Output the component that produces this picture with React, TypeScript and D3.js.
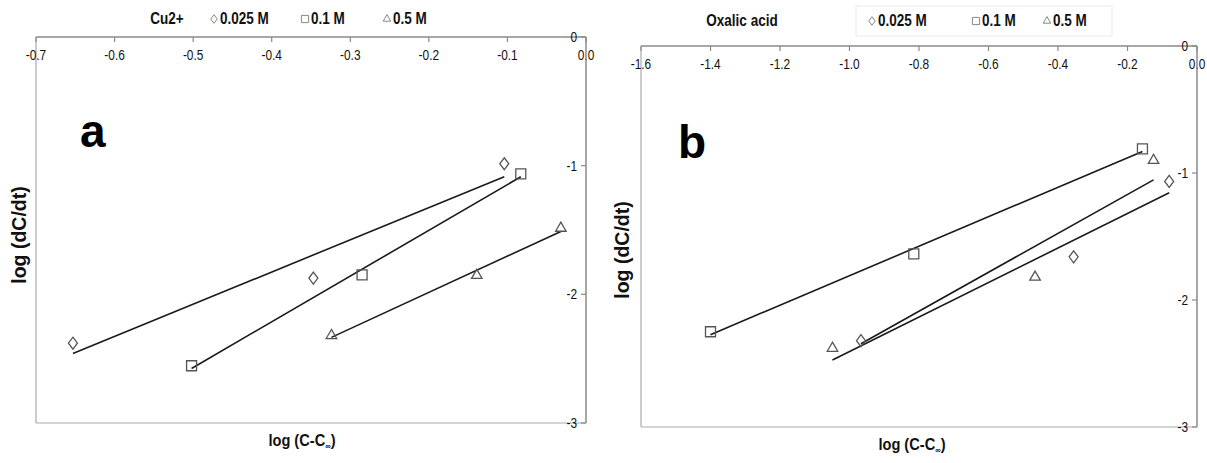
import React from "react";
import * as d3 from "d3";

// ---------- data ----------
const yTicks = [0, -1, -2, -3];
const yTickLabels = ["0", "-1", "-2", "-3"];

const xTicksA = [-0.7, -0.6, -0.5, -0.4, -0.3, -0.2, -0.1, 0];
const xTicksB = [-1.6, -1.4, -1.2, -1.0, -0.8, -0.6, -0.4, -0.2, 0];

const seriesNames = ["0.025 M", "0.1 M", "0.5 M"];
const seriesShapes = ["diamond", "square", "triangle"];

// panel a : Cu2+
const aDiamondX = [-0.653, -0.347, -0.104];
const aDiamondY = [-2.38, -1.874, -0.985];
const aSquareX = [-0.502, -0.285, -0.083];
const aSquareY = [-2.555, -1.848, -1.064];
const aTriangleX = [-0.324, -0.139, -0.032];
const aTriangleY = [-2.32, -1.853, -1.486];
const aFitSpans = [
  [-0.653, -0.104],
  [-0.502, -0.083],
  [-0.324, -0.032],
];

// panel b : Oxalic acid
const bDiamondX = [-0.967, -0.355, -0.08];
const bDiamondY = [-2.32, -1.66, -1.066];
const bSquareX = [-1.4, -0.815, -0.157];
const bSquareY = [-2.25, -1.637, -0.81];
const bTriangleX = [-1.049, -0.466, -0.125];
const bTriangleY = [-2.38, -1.82, -0.9];
const bFitSpans = [
  [-1.049, -0.08],
  [-1.4, -0.157],
  [-0.967, -0.125],
];

// ---------- helpers ----------
function regress(xs: number[], ys: number[]) {
  const mx = d3.mean(xs) as number;
  const my = d3.mean(ys) as number;
  let sxy = 0;
  let sxx = 0;
  xs.forEach((x, i) => {
    sxy += (x - mx) * (ys[i] - my);
    sxx += (x - mx) * (x - mx);
  });
  const slope = sxy / sxx;
  return (x: number) => my + slope * (x - mx);
}

function shapePath(shape: string, scale: number) {
  if (shape === "diamond") {
    const p = d3.path();
    p.moveTo(0, -6 * scale);
    p.lineTo(4.5 * scale, 0);
    p.lineTo(0, 6 * scale);
    p.lineTo(-4.5 * scale, 0);
    p.closePath();
    return p.toString();
  }
  if (shape === "square") {
    return d3.symbol().type(d3.symbolSquare).size(100 * scale * scale)() as string;
  }
  return d3.symbol().type(d3.symbolTriangle).size(48 * scale * scale)() as string;
}

const FONT = "'Liberation Sans', Arial, sans-serif";

// condensed text (emulates Arial Narrow)
function NText(props: {
  x: number;
  y: number;
  size: number;
  bold?: boolean;
  anchor?: string;
  middle?: boolean;
  sx?: number;
  children: React.ReactNode;
}) {
  const sx = props.sx ?? 0.82;
  return (
    <text
      transform={`translate(${props.x},${props.y}) scale(${sx},1)`}
      dy={props.middle ? "0.35em" : undefined}
      textAnchor={props.anchor ?? "start"}
      fontFamily={FONT}
      fontWeight={props.bold ? "bold" : "normal"}
      fontSize={props.size}
      fill="#111"
    >
      {props.children}
    </text>
  );
}

type PanelProps = {
  left: number;
  right: number;
  top: number;
  bottom: number;
  xDomain: [number, number];
  xTicks: number[];
  series: { xs: number[]; ys: number[]; span: number[] }[];
  legendTitle: string;
  legendTitleX: number;
  legendSymX: number[];
  legendY: number;
  legendBox?: [number, number, number, number];
  letter: string;
  letterX: number;
  letterY: number;
  yLabelX: number;
  yLabelY: number;
  xLabelX: number;
  xLabelY: number;
};

function Panel(p: PanelProps) {
  const x = d3.scaleLinear().domain(p.xDomain).range([p.left, p.right]);
  const y = d3.scaleLinear().domain([0, -3]).range([p.top, p.bottom]);
  return (
    <g>
      {/* frame */}
      <line x1={p.left} x2={p.left} y1={p.top} y2={p.bottom} stroke="#a8a8a8" strokeWidth={1.2} />
      <line x1={p.left} x2={p.right} y1={p.bottom} y2={p.bottom} stroke="#a8a8a8" strokeWidth={1.2} />
      {/* top x axis */}
      <line x1={p.left} x2={p.right} y1={p.top} y2={p.top} stroke="#8a8a8a" strokeWidth={1.5} />
      {p.xTicks.map((t, i) => (
        <g key={"xt" + i}>
          <line x1={x(t)} x2={x(t)} y1={p.top} y2={p.top + 5} stroke="#8a8a8a" strokeWidth={1.2} />
          <NText x={x(t)} y={p.top + 23} size={14.5} anchor="middle">
            {t.toFixed(1)}
          </NText>
        </g>
      ))}
      {/* right y axis */}
      <line x1={p.right} x2={p.right} y1={p.top} y2={p.bottom} stroke="#8a8a8a" strokeWidth={1.5} />
      {yTicks.map((t, i) => (
        <g key={"yt" + i}>
          <line x1={p.right - 5} x2={p.right} y1={y(t)} y2={y(t)} stroke="#8a8a8a" strokeWidth={1.2} />
          <NText x={p.right - 9} y={y(t)} size={14.5} anchor="end" middle>
            {yTickLabels[i]}
          </NText>
        </g>
      ))}
      {/* trend lines */}
      {p.series.map((s, i) => {
        const f = regress(s.xs, s.ys);
        const path = d3
          .line<number>()
          .x((d) => x(d))
          .y((d) => y(f(d)))(s.span);
        return <path key={"fit" + i} d={path as string} fill="none" stroke="#1a1a1a" strokeWidth={1.6} />;
      })}
      {/* markers */}
      {p.series.map((s, i) =>
        s.xs.map((xv, j) => (
          <path
            key={"m" + i + "-" + j}
            d={shapePath(seriesShapes[i], 1)}
            transform={`translate(${x(xv)},${y(s.ys[j])})`}
            fill="none"
            stroke="#555"
            strokeWidth={1.3}
          />
        ))
      )}
      {/* legend */}
      {p.legendBox && (
        <rect
          x={p.legendBox[0]}
          y={p.legendBox[1]}
          width={p.legendBox[2]}
          height={p.legendBox[3]}
          fill="none"
          stroke="#ececec"
          strokeWidth={1}
        />
      )}
      <NText x={p.legendTitleX} y={p.legendY} size={16.5} bold anchor="middle" middle>
        {p.legendTitle}
      </NText>
      {seriesNames.map((n, i) => (
        <g key={"lg" + i}>
          <path
            d={shapePath(seriesShapes[i], 0.72)}
            transform={`translate(${p.legendSymX[i]},${p.legendY + 1})`}
            fill="none"
            stroke="#888"
            strokeWidth={1}
          />
          <NText x={p.legendSymX[i] + 6} y={p.legendY} size={16.5} bold middle>
            {n}
          </NText>
        </g>
      ))}
      {/* panel letter */}
      <text x={p.letterX} y={p.letterY} fontFamily={FONT} fontWeight="bold" fontSize={46} fill="#000">
        {p.letter}
      </text>
      {/* axis titles */}
      <text
        transform={`translate(${p.yLabelX},${p.yLabelY}) rotate(-90)`}
        textAnchor="middle"
        fontFamily={FONT}
        fontWeight="bold"
        fontSize={19.5}
        fill="#111"
      >
        log (dC/dt)
      </text>
      <NText x={p.xLabelX} y={p.xLabelY} size={17} bold anchor="middle" sx={0.86}>
        log (C-C<tspan fontSize={9} dy={3}>∞</tspan>
        <tspan dy={-3}>)</tspan>
      </NText>
    </g>
  );
}

export default function App() {
  return (
    <svg
      width={1207}
      height={463}
      style={{ position: "absolute", left: 0, top: 0, background: "#fff" }}
    >
      <rect width={1207} height={463} fill="#fff" />
      <Panel
        left={36}
        right={586}
        top={37}
        bottom={423}
        xDomain={[-0.7, 0]}
        xTicks={xTicksA}
        series={[
          { xs: aDiamondX, ys: aDiamondY, span: aFitSpans[0] },
          { xs: aSquareX, ys: aSquareY, span: aFitSpans[1] },
          { xs: aTriangleX, ys: aTriangleY, span: aFitSpans[2] },
        ]}
        legendTitle="Cu2+"
        legendTitleX={167}
        legendSymX={[214, 305, 387]}
        legendY={18}
        letter="a"
        letterX={80}
        letterY={147}
        yLabelX={26}
        yLabelY={235}
        xLabelX={302}
        xLabelY={446}
      />
      <Panel
        left={641}
        right={1197}
        top={46}
        bottom={427}
        xDomain={[-1.6, 0]}
        xTicks={xTicksB}
        series={[
          { xs: bDiamondX, ys: bDiamondY, span: bFitSpans[0] },
          { xs: bSquareX, ys: bSquareY, span: bFitSpans[1] },
          { xs: bTriangleX, ys: bTriangleY, span: bFitSpans[2] },
        ]}
        legendTitle="Oxalic acid"
        legendTitleX={742}
        legendSymX={[872, 976, 1047]}
        legendY={20}
        legendBox={[856, 6, 256, 30]}
        letter="b"
        letterX={678}
        letterY={158}
        yLabelX={629}
        yLabelY={250}
        xLabelX={912}
        xLabelY={450}
      />
    </svg>
  );
}
